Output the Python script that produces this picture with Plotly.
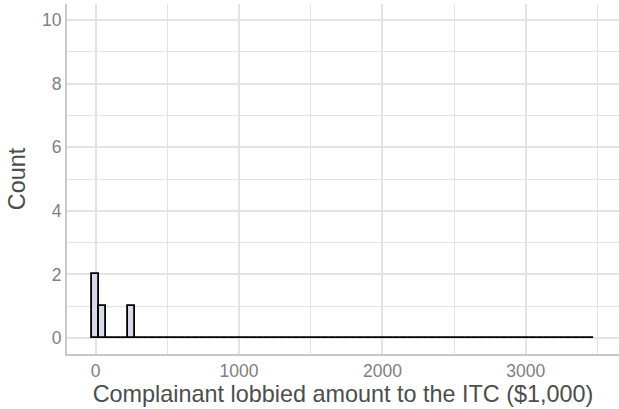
import plotly.graph_objects as go

# histogram bins (binwidth 50, centred on multiples of 50)
bin_width = 50
bin_centers = list(range(0, 3500, 50))
counts = [2, 1, 0, 0, 0, 1] + [0] * 64

x_ticks = [0, 1000, 2000, 3000]
y_ticks = [0, 2, 4, 6, 8, 10]

fig = go.Figure()
fig.add_trace(go.Bar(
    x=bin_centers, y=counts, width=bin_width,
    marker=dict(color="#d9d9ea", line=dict(color="black", width=1.8)),
    showlegend=False,
))

grid = "#e3e3e3"
fig.update_layout(
    width=619, height=409,
    margin=dict(l=67, r=0, t=4, b=55, autoexpand=False),
    paper_bgcolor="white", plot_bgcolor="white",
    font=dict(family="Liberation Sans, Arial, sans-serif"),
    bargap=0,
    xaxis=dict(
        range=[-200, 3650], tickvals=x_ticks, ticktext=[str(v) for v in x_ticks],
        showgrid=True, gridcolor=grid, gridwidth=2,
        minor=dict(dtick=500, tick0=500, showgrid=True, gridcolor=grid, gridwidth=1),
        showline=True, linecolor="#c8c8c8", linewidth=2,
        zeroline=False, ticks="", automargin=False,
        tickfont=dict(size=17.5, color="#808080"),
        title=dict(text="Complainant lobbied amount to the ITC ($1,000)",
                   font=dict(size=23.4, color="#4d4d4d"), standoff=4),
    ),
    yaxis=dict(
        range=[-0.5, 10.5], tickvals=y_ticks, ticktext=[str(v) for v in y_ticks],
        showgrid=True, gridcolor=grid, gridwidth=2,
        minor=dict(dtick=1, tick0=1, showgrid=True, gridcolor=grid, gridwidth=1),
        showline=True, linecolor="#c8c8c8", linewidth=2,
        zeroline=False, ticks="", automargin=False,
        tickfont=dict(size=17.5, color="#808080"),
        title=dict(text="Count", font=dict(size=23.4, color="#4d4d4d"), standoff=10),
    ),
)

fig.write_html("out.html", config={"displayModeBar": False},
               post_script="document.body.style.margin='0';")
